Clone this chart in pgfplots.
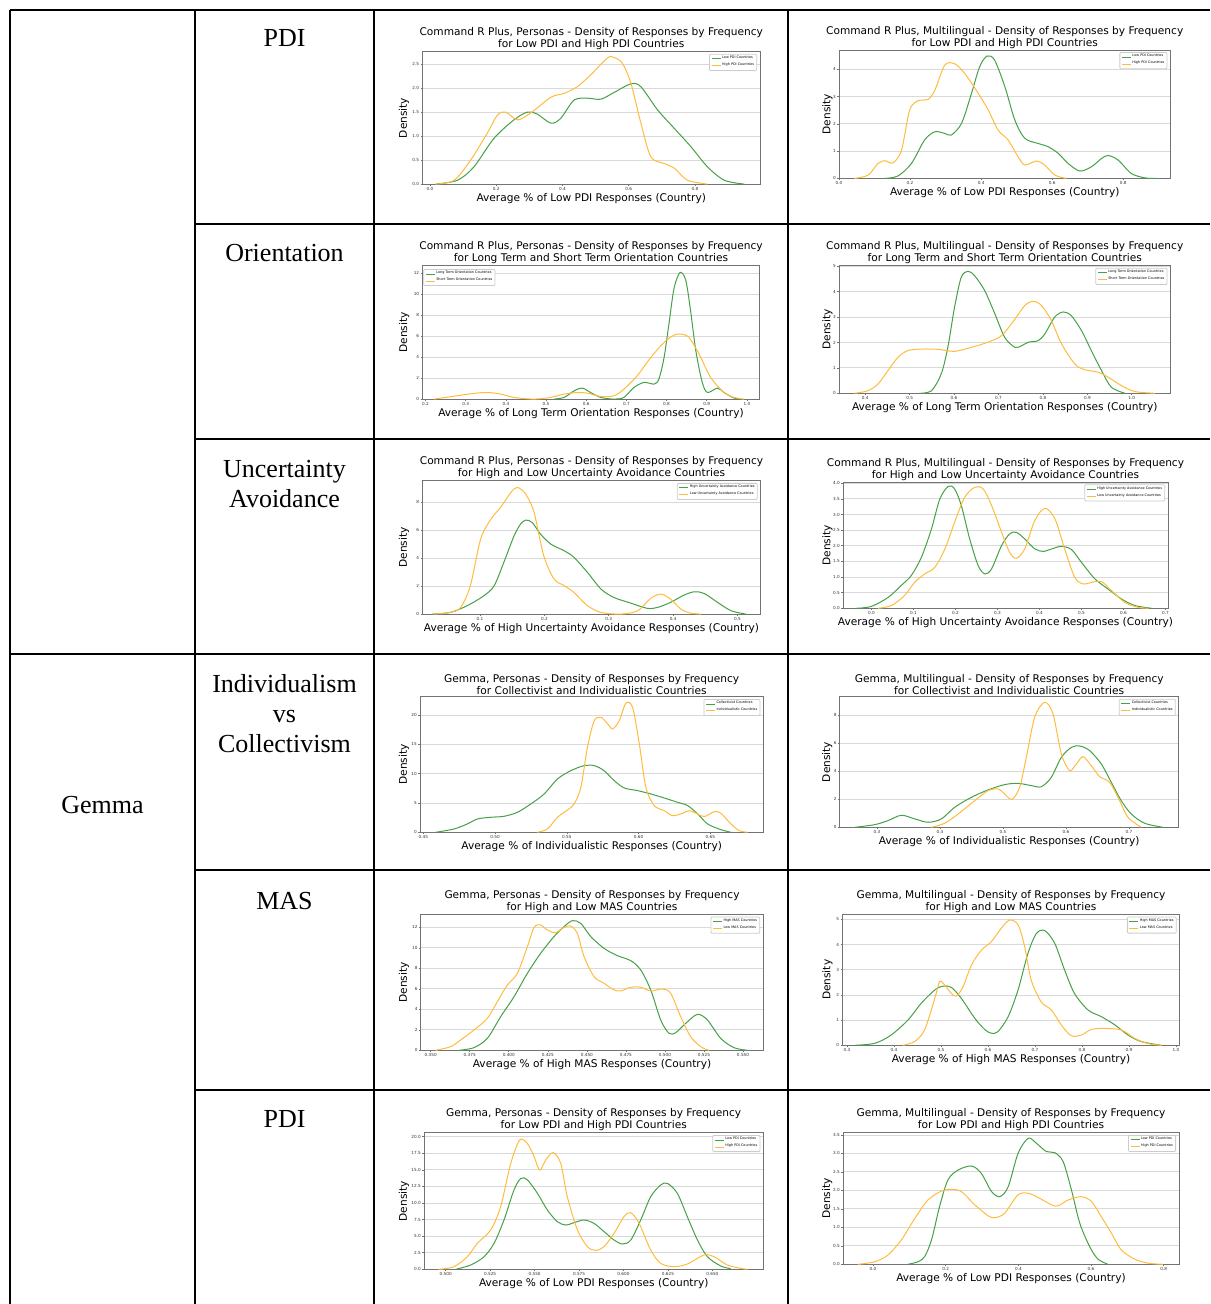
\documentclass[border=0pt]{standalone}
\usepackage{pgfplots}
\pgfplotsset{compat=1.18}
\usepackage{fontspec}
\setmainfont{Liberation Serif}
\newfontfamily\dejavu{DejaVu Sans}
\newcommand\pfont{\dejavu\fontsize{5.3}{6}\selectfont}
\newcommand\tfont{\dejavu\fontsize{2.1}{2.5}\selectfont}
\newcommand\lfont{\dejavu\fontsize{1.7}{2}\selectfont}
\newcommand\cellfont{\fontsize{13}{15}\selectfont}

\definecolor{kg}{RGB}{70,160,70}
\definecolor{ko}{RGB}{255,188,60}

\pgfplotsset{
  kde/.style={
    scale only axis, anchor=north west,
    ymin=0,
    axis line style={black!55, line width=0.4pt},
    tick style={black!55, line width=0.3pt},
    major tick length=0.8pt, tick align=outside,
    xtick pos=bottom, ytick pos=left,
    ymajorgrids, grid style={black!15, line width=0.4pt},
    ticklabel style={font=\tfont, inner sep=0.6pt, text=black!80},
    every axis title shift=0pt,
    title style={font=\pfont, align=center, at={(0.5,1)}, anchor=south, inner sep=0pt, yshift=0.6pt},
    xlabel style={font=\pfont, at={(axis description cs:0.5,0)}, anchor=center, yshift=-7pt},
    ylabel style={font=\pfont},
    ylabel=Density,
    legend style={font=\lfont, draw=black!20, rounded corners=0.5pt, fill=white,
      inner xsep=0.8pt, inner ysep=0.4pt, at={(0.991,0.983)}, anchor=north east,
      nodes={inner sep=0.5pt}, row sep=-0.3pt},
    legend cell align=left,
    legend image code/.code={\draw[##1, line width=0.5pt] (0pt,0pt) -- (4.5pt,0pt);},
    every axis plot/.append style={line width=0.5pt, smooth, no marks},
    /pgf/number format/assume math mode=true,
  },
  ylab/.style={ylabel style={at={(axis description cs:#1,0.5)}, anchor=center}},
  gr/.style={color=kg},
  or/.style={color=ko},
}

\begin{document}
\begin{tikzpicture}
\begin{scope}[x=0.5pt,y=-0.5pt]
  \useasboundingbox (0,0) rectangle (1210,1304);
  % table rules
  \begin{scope}[line width=1pt]
    \draw (10,10) -- (1210,10);
    \draw (10,10) -- (10,1304);
    \draw (195,10) -- (195,1304);
    \draw (374,10) -- (374,1304);
    \draw (788,10) -- (788,1304);
    \draw (195,224) -- (1210,224);
    \draw (195,439) -- (1210,439);
    \draw (10,654) -- (1210,654);
    \draw (195,870) -- (1210,870);
    \draw (195,1090) -- (1210,1090);
  \end{scope}
  % row labels
  \begin{scope}[every node/.style={font=\cellfont, anchor=base, inner sep=0pt}]
    \node at (284.5,46.6) {PDI};
    \node at (284.5,261.6) {Orientation};
    \node at (284.5,477.6) {Uncertainty};
    \node at (284.5,507.6) {Avoidance};
    \node at (284.5,692.6) {Individualism};
    \node at (284.5,722.6) {vs};
    \node at (284.5,752.6) {Collectivism};
    \node at (284.5,909.6) {MAS};
    \node at (284.5,1127.6) {PDI};
    \node at (102.5,813.6) {Gemma};
  \end{scope}
  % axis corners
  \coordinate (A1) at (422.3,51.7);
  \coordinate (A2) at (839,50);
  \coordinate (A3) at (422.3,265.7);
  \coordinate (A4) at (839,265.7);
  \coordinate (A5) at (422.3,480.7);
  \coordinate (A6) at (843,482.3);
  \coordinate (A7) at (420,696.7);
  \coordinate (A8) at (839.7,696.7);
  \coordinate (A9) at (420.7,914.3);
  \coordinate (A10) at (842.3,914.3);
  \coordinate (A11) at (424,1132.7);
  \coordinate (A12) at (843,1132.7);
\end{scope}

% ---------- Command R Plus, Personas, PDI
\begin{axis}[kde, at={(A1)}, width=168.9pt, height=66.2pt, ylab=-0.054,
  xmin=-0.023, xmax=0.997, ymax=2.76,
  xtick={0,0.2,0.4,0.6,0.8}, xticklabels={0.0,0.2,0.4,0.6,0.8},
  ytick={0,0.5,1,1.5,2,2.5}, yticklabels={0.0,0.5,1.0,1.5,2.0,2.5},
  title={Command R Plus, Personas - Density of Responses by Frequency\\for Low PDI and High PDI Countries},
  xlabel={Average \% of Low PDI Responses (Country)}]
\addplot[gr] coordinates {(0.017,0) (0.083,0.08) (0.133,0.36) (0.193,0.95) (0.254,1.34) (0.294,1.50) (0.324,1.46) (0.365,1.27) (0.395,1.37) (0.435,1.75) (0.476,1.79) (0.516,1.77) (0.556,1.91) (0.607,2.09) (0.637,2.03) (0.687,1.55) (0.738,1.16) (0.788,0.78) (0.838,0.36) (0.889,0.08) (0.949,0)};
\addplot[or] coordinates {(0.017,0) (0.073,0.08) (0.123,0.50) (0.173,1.06) (0.204,1.44) (0.229,1.50) (0.264,1.34) (0.304,1.48) (0.365,1.81) (0.405,1.89) (0.445,2.03) (0.486,2.28) (0.536,2.63) (0.556,2.64) (0.581,2.52) (0.607,2.10) (0.637,1.27) (0.667,0.57) (0.707,0.43) (0.738,0.33) (0.778,0.08) (0.838,0)};
\legend{Low PDI Countries, High PDI Countries}
\end{axis}

% ---------- Command R Plus, Multilingual, PDI
\begin{axis}[kde, at={(A2)}, width=165.7pt, height=64.2pt, ylab=-0.035,
  xmin=0, xmax=0.933, ymax=4.71,
  xtick={0,0.2,0.4,0.6,0.8}, xticklabels={0.0,0.2,0.4,0.6,0.8},
  ytick={0,1,2,3,4},
  title={Command R Plus, Multilingual - Density of Responses by Frequency\\for Low PDI and High PDI Countries},
  xlabel={Average \% of Low PDI Responses (Country)}]
\addplot[gr] coordinates {(0.129,0) (0.166,0.09) (0.204,0.55) (0.241,1.41) (0.270,1.71) (0.298,1.65) (0.316,1.59) (0.345,2.02) (0.373,3.12) (0.396,4.10) (0.417,4.49) (0.438,4.34) (0.467,3.36) (0.495,2.14) (0.523,1.47) (0.561,1.28) (0.589,1.16) (0.617,0.92) (0.645,0.55) (0.678,0.27) (0.711,0.43) (0.739,0.73) (0.758,0.84) (0.786,0.67) (0.823,0.18) (0.861,0.02) (0.889,0)};
\addplot[or] coordinates {(0.044,0) (0.082,0.12) (0.110,0.55) (0.129,0.65) (0.152,0.57) (0.176,1.04) (0.199,2.51) (0.223,2.85) (0.251,2.90) (0.270,3.24) (0.298,4.16) (0.326,4.20) (0.354,3.85) (0.392,3.12) (0.420,2.51) (0.448,1.77) (0.476,1.41) (0.504,0.80) (0.523,0.49) (0.556,0.64) (0.579,0.49) (0.608,0.12) (0.640,0)};
\legend{Low PDI Countries, High PDI Countries}
\end{axis}

% ---------- Command R Plus, Personas, Orientation
\begin{axis}[kde, at={(A3)}, width=168.7pt, height=66.7pt, ylab=-0.054,
  xmin=0.192, xmax=1.032, ymax=12.7,
  xtick={0.2,0.3,0.4,0.5,0.6,0.7,0.8,0.9,1.0}, xticklabels={0.2,0.3,0.4,0.5,0.6,0.7,0.8,0.9,1.0},
  ytick={0,2,4,6,8,10,12},
  legend style={at={(0.003,0.975)}, anchor=north west},
  title={Command R Plus, Personas - Density of Responses by Frequency\\for Long Term and Short Term Orientation Countries},
  xlabel={Average \% of Long Term Orientation Responses (Country)}]
\addplot[gr] coordinates {(0.520,0) (0.545,0.16) (0.570,0.79) (0.590,1.05) (0.611,0.63) (0.636,0.16) (0.669,0) (0.694,0.16) (0.719,1.11) (0.744,1.59) (0.769,1.43) (0.781,1.90) (0.794,3.97) (0.806,7.14) (0.819,10.6) (0.834,12.06) (0.848,11.3) (0.860,8.4) (0.873,4.6) (0.889,1.59) (0.902,0.63) (0.927,1.05) (0.943,0.63) (0.968,0.10) (0.985,0)};
\addplot[or] coordinates {(0.221,0) (0.279,0.32) (0.320,0.54) (0.354,0.63) (0.387,0.48) (0.420,0.16) (0.470,0) (0.511,0.16) (0.545,0.48) (0.578,0.63) (0.603,0.57) (0.636,0.25) (0.669,0.32) (0.694,0.95) (0.727,2.22) (0.761,3.97) (0.794,5.4) (0.819,6.1) (0.835,6.19) (0.856,5.87) (0.881,4.29) (0.910,2.06) (0.943,0.63) (0.968,0.16) (0.993,0)};
\legend{Long Term Orientation Countries, Short Term Orientation Countries}
\end{axis}

% ---------- Command R Plus, Multilingual, Orientation
\begin{axis}[kde, at={(A4)}, width=165.7pt, height=63.8pt, ylab=-0.035,
  xmin=0.341, xmax=1.087, ymax=5.02,
  xtick={0.4,0.5,0.6,0.7,0.8,0.9,1.0}, xticklabels={0.4,0.5,0.6,0.7,0.8,0.9,1.0},
  ytick={0,1,2,3,4,5},
  title={Command R Plus, Multilingual - Density of Responses by Frequency\\for Long Term and Short Term Orientation Countries},
  xlabel={Average \% of Long Term Orientation Responses (Country)}]
\addplot[gr] coordinates {(0.522,0) (0.549,0.10) (0.571,0.76) (0.586,1.81) (0.601,3.38) (0.616,4.56) (0.631,4.80) (0.646,4.63) (0.669,4.04) (0.692,3.12) (0.714,2.20) (0.737,1.81) (0.752,1.87) (0.767,2.01) (0.789,2.07) (0.804,2.33) (0.827,3.01) (0.846,3.20) (0.864,3.05) (0.887,2.46) (0.909,1.68) (0.932,0.89) (0.954,0.24) (0.985,0)};
\addplot[or] coordinates {(0.376,0) (0.406,0.10) (0.429,0.37) (0.451,0.89) (0.474,1.42) (0.496,1.68) (0.526,1.74) (0.564,1.73) (0.601,1.65) (0.639,1.81) (0.676,2.01) (0.707,2.27) (0.737,2.92) (0.759,3.45) (0.778,3.62) (0.797,3.45) (0.819,2.86) (0.842,1.94) (0.872,1.15) (0.894,0.93) (0.924,0.83) (0.947,0.63) (0.977,0.30) (1.007,0.07) (1.052,0)};
\legend{Long Term Orientation Countries, Short Term Orientation Countries}
\end{axis}

% ---------- Command R Plus, Personas, Uncertainty Avoidance
\begin{axis}[kde, at={(A5)}, width=169.2pt, height=66.7pt, ylab=-0.054,
  xmin=0.0104, xmax=0.536, ymax=9.55,
  xtick={0.1,0.2,0.3,0.4,0.5}, xticklabels={0.1,0.2,0.3,0.4,0.5},
  ytick={0,2,4,6,8},
  title={Command R Plus, Personas - Density of Responses by Frequency\\for High and Low Uncertainty Avoidance Countries},
  xlabel={Average \% of High Uncertainty Avoidance Responses (Country)}]
\addplot[gr] coordinates {(0.026,0) (0.054,0.12) (0.080,0.60) (0.106,1.31) (0.122,2.03) (0.137,3.70) (0.153,5.61) (0.163,6.44) (0.171,6.73) (0.181,6.56) (0.194,5.73) (0.210,5.01) (0.231,4.53) (0.246,4.06) (0.267,2.98) (0.288,1.79) (0.308,1.19) (0.334,0.79) (0.360,0.41) (0.376,0.48) (0.396,0.84) (0.417,1.36) (0.433,1.60) (0.448,1.48) (0.469,0.84) (0.490,0.24) (0.513,0)};
\addplot[or] coordinates {(0.028,0) (0.054,0.12) (0.070,0.48) (0.085,2.03) (0.101,5.37) (0.117,6.80) (0.132,7.64) (0.148,8.71) (0.158,9.07) (0.171,8.59) (0.184,7.28) (0.199,4.18) (0.215,2.51) (0.231,2.03) (0.246,1.55) (0.267,0.60) (0.288,0.12) (0.319,0) (0.345,0.24) (0.365,1.12) (0.381,1.43) (0.396,1.07) (0.412,0.36) (0.427,0.07) (0.443,0)};
\legend{High Uncertainty Avoidance Countries, Low Uncertainty Avoidance Countries}
\end{axis}

% ---------- Command R Plus, Multilingual, Uncertainty Avoidance
\begin{axis}[kde, at={(A6)}, width=162.5pt, height=63pt, ylab=-0.048,
  xmin=-0.0675, xmax=0.706, ymax=4.03,
  xtick={0,0.1,0.2,0.3,0.4,0.5,0.6,0.7}, xticklabels={0.0,0.1,0.2,0.3,0.4,0.5,0.6,0.7},
  ytick={0,0.5,1,1.5,2,2.5,3,3.5,4}, yticklabels={0.0,0.5,1.0,1.5,2.0,2.5,3.0,3.5,4.0},
  title={Command R Plus, Multilingual - Density of Responses by Frequency\\for High and Low Uncertainty Avoidance Countries},
  xlabel={Average \% of High Uncertainty Avoidance Responses (Country)}]
\addplot[gr] coordinates {(-0.036,0) (0,0.06) (0.040,0.35) (0.071,0.73) (0.095,1.05) (0.119,1.63) (0.143,2.54) (0.163,3.50) (0.183,3.90) (0.198,3.82) (0.214,3.29) (0.234,2.22) (0.254,1.37) (0.270,1.10) (0.286,1.26) (0.310,2.01) (0.329,2.38) (0.345,2.43) (0.365,2.22) (0.389,1.90) (0.409,1.82) (0.429,1.90) (0.452,1.98) (0.476,1.88) (0.500,1.47) (0.532,0.94) (0.563,0.62) (0.595,0.30) (0.627,0.09) (0.667,0)};
\addplot[or] coordinates {(0.016,0) (0.048,0.09) (0.079,0.41) (0.103,0.83) (0.127,1.10) (0.151,1.31) (0.175,1.90) (0.198,2.75) (0.222,3.55) (0.246,3.87) (0.266,3.82) (0.286,3.29) (0.310,2.43) (0.329,1.79) (0.345,1.60) (0.365,1.90) (0.389,2.81) (0.413,3.20) (0.437,2.86) (0.460,1.90) (0.484,0.99) (0.504,0.78) (0.524,0.83) (0.548,0.85) (0.571,0.57) (0.603,0.19) (0.635,0.03) (0.659,0)};
\legend{High Uncertainty Avoidance Countries, Low Uncertainty Avoidance Countries}
\end{axis}

% ---------- Gemma, Personas, Individualism
\begin{axis}[kde, at={(A7)}, width=171.7pt, height=67.8pt, ylab=-0.047,
  xmin=0.4477, xmax=0.687, ymax=23.1,
  xtick={0.45,0.5,0.55,0.6,0.65}, xticklabels={0.45,0.50,0.55,0.60,0.65},
  ytick={0,5,10,15,20},
  title={Gemma, Personas - Density of Responses by Frequency\\for Collectivist and Individualistic Countries},
  xlabel={Average \% of Individualistic Responses (Country)}]
\addplot[gr] coordinates {(0.4586,0) (0.4714,0.57) (0.4807,1.42) (0.4877,2.27) (0.4970,2.56) (0.5063,2.73) (0.5156,3.41) (0.5249,4.83) (0.5342,6.53) (0.5435,9.09) (0.5528,10.5) (0.5621,11.36) (0.5691,11.36) (0.5760,10.5) (0.5830,8.81) (0.5900,7.56) (0.5993,7.10) (0.6086,6.53) (0.6179,5.85) (0.6272,5.11) (0.6342,4.55) (0.6412,3.13) (0.6481,1.42) (0.6574,0.45) (0.6644,0)};
\addplot[or] coordinates {(0.5295,0) (0.5365,0.57) (0.5435,2.56) (0.5505,3.81) (0.5551,4.83) (0.5598,7.67) (0.5644,14.5) (0.5691,19.0) (0.5737,19.6) (0.5784,18.5) (0.5819,17.6) (0.5865,19.0) (0.5912,22.0) (0.5958,21.3) (0.6005,15.1) (0.6051,7.67) (0.6109,4.55) (0.6179,3.69) (0.6237,2.84) (0.6307,3.24) (0.6353,3.69) (0.6412,3.13) (0.6458,2.67) (0.6528,3.52) (0.6574,3.24) (0.6644,1.42) (0.6702,0.28) (0.6760,0)};
\legend{Collectivist Countries, Individualistic Countries}
\end{axis}

% ---------- Gemma, Multilingual, Individualism
\begin{axis}[kde, at={(A8)}, width=169.5pt, height=65.3pt, ylab=-0.037,
  xmin=0.2407, xmax=0.779, ymax=9.33,
  xtick={0.3,0.4,0.5,0.6,0.7}, xticklabels={0.3,0.4,0.5,0.6,0.7},
  ytick={0,2,4,6,8},
  title={Gemma, Multilingual - Density of Responses by Frequency\\for Collectivist and Individualistic Countries},
  xlabel={Average \% of Individualistic Responses (Country)}]
\addplot[gr] coordinates {(0.2646,0) (0.2963,0.19) (0.3175,0.48) (0.3386,0.86) (0.3598,0.60) (0.3810,0.36) (0.4021,0.60) (0.4233,1.43) (0.4497,2.14) (0.4762,2.67) (0.5026,3.05) (0.5238,3.14) (0.5450,2.98) (0.5608,2.90) (0.5767,3.57) (0.5926,5.0) (0.6085,5.71) (0.6217,5.81) (0.6376,5.48) (0.6561,4.52) (0.6720,3.21) (0.6878,1.90) (0.7037,0.95) (0.7249,0.29) (0.7540,0)};
\addplot[or] coordinates {(0.3862,0) (0.4074,0.29) (0.4286,0.95) (0.4550,1.90) (0.4762,2.62) (0.4921,2.74) (0.5026,2.38) (0.5143,2.00) (0.5265,2.86) (0.5370,5.0) (0.5503,7.86) (0.5661,8.93) (0.5794,8.10) (0.5926,5.24) (0.6058,4.05) (0.6164,4.52) (0.6270,5.05) (0.6402,4.40) (0.6534,3.62) (0.6693,3.21) (0.6852,1.90) (0.6984,0.71) (0.7196,0)};
\legend{Collectivist Countries, Individualistic Countries}
\end{axis}

% ---------- Gemma, Personas, MAS
\begin{axis}[kde, at={(A9)}, width=171.3pt, height=68pt, ylab=-0.049,
  xmin=0.3436, xmax=0.563, ymax=13.27,
  xtick={0.35,0.375,0.4,0.425,0.45,0.475,0.5,0.525,0.55}, xticklabels={0.350,0.375,0.400,0.425,0.450,0.475,0.500,0.525,0.550},
  ytick={0,2,4,6,8,10,12},
  title={Gemma, Personas - Density of Responses by Frequency\\for High and Low MAS Countries},
  xlabel={Average \% of High MAS Responses (Country)}]
\addplot[gr] coordinates {(0.3681,0) (0.3777,0.26) (0.3863,1.17) (0.3948,3.28) (0.4034,5.24) (0.4119,7.51) (0.4204,9.46) (0.4290,11.1) (0.4354,12.07) (0.4407,12.65) (0.4461,12.39) (0.4525,11.1) (0.4610,9.95) (0.4695,9.24) (0.4781,8.75) (0.4845,7.84) (0.4909,5.89) (0.4973,2.96) (0.5026,1.66) (0.5069,1.72) (0.5133,2.63) (0.5208,3.51) (0.5272,2.96) (0.5357,1.17) (0.5442,0.26) (0.5528,0)};
\addplot[or] coordinates {(0.3532,0) (0.3628,0.36) (0.3692,1.01) (0.3777,1.98) (0.3863,3.12) (0.3927,4.75) (0.3991,6.37) (0.4055,7.51) (0.4119,10.1) (0.4162,12.0) (0.4204,12.23) (0.4247,11.74) (0.4300,11.48) (0.4354,12.0) (0.4396,12.13) (0.4439,11.41) (0.4482,9.14) (0.4546,7.19) (0.4610,6.54) (0.4674,5.89) (0.4717,5.79) (0.4781,6.15) (0.4845,6.15) (0.4909,5.79) (0.4983,5.98) (0.5037,5.56) (0.5101,3.28) (0.5165,1.33) (0.5229,0.36) (0.5282,0)};
\legend{High MAS Countries, Low MAS Countries}
\end{axis}

% ---------- Gemma, Multilingual, MAS
\begin{axis}[kde, at={(A10)}, width=168.7pt, height=65.5pt, ylab=-0.044,
  xmin=0.290, xmax=1.008, ymax=5.2,
  xtick={0.3,0.4,0.5,0.6,0.7,0.8,0.9,1.0}, xticklabels={0.3,0.4,0.5,0.6,0.7,0.8,0.9,1.0},
  ytick={0,1,2,3,4,5},
  title={Gemma, Multilingual - Density of Responses by Frequency\\for High and Low MAS Countries},
  xlabel={Average \% of High MAS Responses (Country)}]
\addplot[gr] coordinates {(0.316,0) (0.359,0.08) (0.394,0.41) (0.430,1.01) (0.458,1.67) (0.487,2.20) (0.504,2.35) (0.522,2.30) (0.543,1.87) (0.572,1.07) (0.593,0.63) (0.607,0.48) (0.621,0.54) (0.643,1.14) (0.664,2.20) (0.685,3.65) (0.703,4.44) (0.721,4.55) (0.742,4.05) (0.763,2.99) (0.784,2.06) (0.813,1.40) (0.841,1.14) (0.870,0.81) (0.898,0.41) (0.926,0.15) (0.969,0)};
\addplot[or] coordinates {(0.419,0) (0.444,0.15) (0.465,0.61) (0.487,1.87) (0.497,2.53) (0.508,2.39) (0.522,2.06) (0.533,1.96) (0.547,2.33) (0.565,3.19) (0.586,3.78) (0.607,4.11) (0.628,4.64) (0.646,4.97) (0.664,4.78) (0.678,3.92) (0.692,2.59) (0.713,1.73) (0.735,1.40) (0.756,0.81) (0.777,0.38) (0.799,0.41) (0.820,0.63) (0.848,0.67) (0.884,0.61) (0.912,0.28) (0.940,0.07) (0.969,0)};
\legend{High MAS Countries, Low MAS Countries}
\end{axis}

% ---------- Gemma, Personas, PDI
\begin{axis}[kde, at={(A11)}, width=169.7pt, height=68.3pt, ylab=-0.059,
  xmin=0.4878, xmax=0.6787, ymax=20.6,
  xtick={0.5,0.525,0.55,0.575,0.6,0.625,0.65}, xticklabels={0.500,0.525,0.550,0.575,0.600,0.625,0.650},
  ytick={0,2.5,5,7.5,10,12.5,15,17.5,20}, yticklabels={0.0,2.5,5.0,7.5,10.0,12.5,15.0,17.5,20.0},
  title={Gemma, Personas - Density of Responses by Frequency\\for Low PDI and High PDI Countries},
  xlabel={Average \% of Low PDI Responses (Country)}]
\addplot[gr] coordinates {(0.5056,0) (0.5141,0.65) (0.5216,1.91) (0.5272,3.92) (0.5328,7.44) (0.5384,11.96) (0.5422,13.7) (0.5459,13.5) (0.5516,11.46) (0.5572,8.94) (0.5628,7.19) (0.5675,6.68) (0.5722,7.04) (0.5778,7.44) (0.5834,6.93) (0.5891,5.68) (0.5947,4.42) (0.5994,3.82) (0.6041,4.42) (0.6097,7.44) (0.6153,10.95) (0.6209,12.71) (0.6247,12.96) (0.6303,11.46) (0.6359,7.94) (0.6416,4.42) (0.6472,1.91) (0.6547,0.50) (0.6603,0.1)};
\addplot[or] coordinates {(0.4962,0) (0.5047,0.40) (0.5122,1.91) (0.5178,3.92) (0.5253,5.93) (0.5309,9.45) (0.5366,15.98) (0.5416,19.5) (0.5459,19.0) (0.5497,17.0) (0.5529,14.97) (0.5563,16.5) (0.5604,17.6) (0.5647,15.98) (0.5684,10.95) (0.5741,5.93) (0.5797,3.42) (0.5844,2.86) (0.5891,3.42) (0.5947,5.43) (0.6003,7.94) (0.6041,8.54) (0.6088,6.93) (0.6153,2.91) (0.6209,0.90) (0.6284,0.40) (0.6359,0.80) (0.6453,2.16) (0.6509,1.91) (0.6584,0.65) (0.6659,0.15) (0.6697,0)};
\legend{Low PDI Countries, High PDI Countries}
\end{axis}

% ---------- Gemma, Multilingual, PDI
\begin{axis}[kde, at={(A12)}, width=168pt, height=65.8pt, ylab=-0.047,
  xmin=-0.0826, xmax=0.842, ymax=3.56,
  xtick={0,0.2,0.4,0.6,0.8}, xticklabels={0.0,0.2,0.4,0.6,0.8},
  ytick={0,0.5,1,1.5,2,2.5,3,3.5}, yticklabels={0.0,0.5,1.0,1.5,2.0,2.5,3.0,3.5},
  title={Gemma, Multilingual - Density of Responses by Frequency\\for Low PDI and High PDI Countries},
  xlabel={Average \% of Low PDI Responses (Country)}]
\addplot[gr] coordinates {(0.096,0) (0.124,0.07) (0.142,0.21) (0.161,0.66) (0.183,1.56) (0.206,2.28) (0.234,2.55) (0.271,2.66) (0.298,2.46) (0.326,1.97) (0.349,1.83) (0.372,2.10) (0.399,3.00) (0.427,3.41) (0.450,3.27) (0.477,3.05) (0.500,3.02) (0.523,2.78) (0.546,2.01) (0.569,1.11) (0.596,0.48) (0.619,0.14) (0.647,0)};
\addplot[or] coordinates {(-0.041,0) (0.005,0.07) (0.041,0.25) (0.078,0.66) (0.115,1.24) (0.151,1.74) (0.188,1.98) (0.216,2.03) (0.243,1.97) (0.280,1.61) (0.317,1.31) (0.335,1.26) (0.362,1.38) (0.399,1.88) (0.427,1.92) (0.454,1.81) (0.491,1.61) (0.509,1.58) (0.537,1.74) (0.573,1.83) (0.601,1.70) (0.628,1.29) (0.656,0.84) (0.683,0.39) (0.720,0.14) (0.757,0.03) (0.798,0)};
\legend{Low PDI Countries, High PDI Countries}
\end{axis}
\end{tikzpicture}
\end{document}
